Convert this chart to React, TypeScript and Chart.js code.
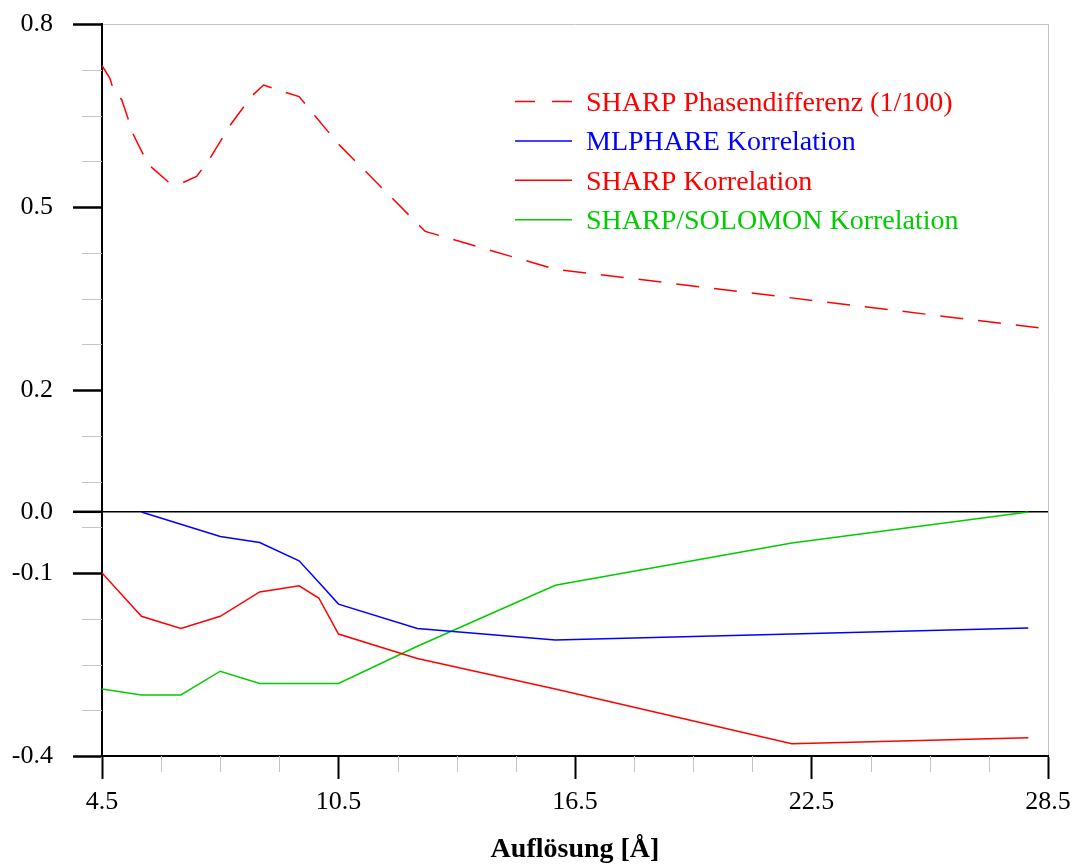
import React, { useEffect, useRef } from 'react';
import { Chart, registerables } from 'chart.js';

Chart.register(...registerables);

// ---- data ----
const RES_SHELLS = [4.5, 5.5, 6.5, 7.5, 8.5, 9.5, 10.0, 10.5, 12.5, 16.0, 22.0, 28.0];
const MLPHARE_KORR: (number | null)[] = [null, 0.0, -0.02, -0.04, -0.05, -0.08, -0.115, -0.151, -0.191, -0.21, -0.2, -0.19];
const SHARP_KORR = [-0.1, -0.171, -0.191, -0.171, -0.131, -0.121, -0.141, -0.2, -0.24, -0.29, -0.38, -0.37];
const SOLOMON_KORR = [-0.29, -0.3, -0.3, -0.261, -0.281, -0.281, -0.281, -0.281, -0.22, -0.12, -0.051, 0.0];

const PHASE_RES = [4.5, 4.7, 4.8, 5.0, 5.3, 5.67, 6.2, 6.55, 6.9, 7.25, 7.75, 8.3, 8.6, 9.15, 9.5, 10.5, 12.7, 16.0, 28.5];
const PHASE_DIFF = [0.732, 0.711, 0.69, 0.676, 0.618, 0.57, 0.54, 0.54, 0.55, 0.581, 0.634, 0.682, 0.7, 0.688, 0.681, 0.603, 0.46, 0.398, 0.3];

const X_MAJOR = [4.5, 10.5, 16.5, 22.5, 28.5];
const X_MINOR = [6, 7.5, 9, 12, 13.5, 15, 18, 19.5, 21, 24, 25.5, 27];
const Y_MAJOR = [-0.4, -0.1, 0.0, 0.2, 0.5, 0.8];
const Y_MINOR = [-0.325, -0.25, -0.175, -0.025, 0.05, 0.125, 0.275, 0.35, 0.425, 0.575, 0.65, 0.725];

const LABELS = [
  'SHARP Phasendifferenz (1/100)',
  'MLPHARE Korrelation',
  'SHARP Korrelation',
  'SHARP/SOLOMON Korrelation',
];
const COLORS = ['#ff0000', '#0000ff', '#ff0000', '#00cc00'];

const FAMILY = "'Liberation Serif', 'Times New Roman', serif";
const GRAY = '#c4c4c4';

const pts = (xs: number[], ys: (number | null)[]) =>
  xs.map((x, i) => ({ x, y: ys[i] })).filter((p) => p.y !== null);

const minorTicksPlugin = {
  id: 'minorTicks',
  afterDraw(chart: any) {
    const { ctx, chartArea, scales } = chart;
    ctx.save();
    ctx.strokeStyle = GRAY;
    ctx.lineWidth = 1;
    Y_MINOR.forEach((v) => {
      const y = Math.round(scales.y.getPixelForValue(v)) + 0.5;
      ctx.beginPath();
      ctx.moveTo(chartArea.left - 20, y);
      ctx.lineTo(chartArea.left, y);
      ctx.stroke();
    });
    X_MINOR.forEach((v) => {
      const x = Math.round(scales.x.getPixelForValue(v)) + 0.5;
      ctx.beginPath();
      ctx.moveTo(x, chartArea.bottom);
      ctx.lineTo(x, chartArea.bottom + 16);
      ctx.stroke();
    });
    ctx.restore();
  },
};

const legendPlugin = {
  id: 'lineLegend',
  afterDraw(chart: any) {
    const ctx = chart.ctx;
    ctx.save();
    chart.data.datasets.forEach((ds: any, i: number) => {
      const y = 101.5 + i * 39.4;
      ctx.beginPath();
      ctx.setLineDash(i === 0 ? [20, 17] : []);
      ctx.strokeStyle = ds.borderColor;
      ctx.lineWidth = 1.5;
      ctx.moveTo(515, y);
      ctx.lineTo(572, y);
      ctx.stroke();
      ctx.setLineDash([]);
      ctx.fillStyle = ds.borderColor;
      ctx.font = `28px ${FAMILY}`;
      ctx.textBaseline = 'middle';
      ctx.textAlign = 'left';
      ctx.fillText(ds.label, 586, y + 2);
    });
    ctx.restore();
  },
};

export default function App() {
  const ref = useRef<HTMLCanvasElement>(null);

  useEffect(() => {
    const datasets = [
      { label: LABELS[0], data: pts(PHASE_RES, PHASE_DIFF), borderDash: [23, 15] },
      { label: LABELS[1], data: pts(RES_SHELLS, MLPHARE_KORR) },
      { label: LABELS[2], data: pts(RES_SHELLS, SHARP_KORR) },
      { label: LABELS[3], data: pts(RES_SHELLS, SOLOMON_KORR) },
    ].map((d, i) => ({
      ...d,
      borderColor: COLORS[i],
      backgroundColor: COLORS[i],
      borderWidth: 1.5,
      pointRadius: 0,
      fill: false,
      tension: 0,
    }));

    const chart = new Chart(ref.current as HTMLCanvasElement, {
      type: 'line',
      data: { datasets },
      options: {
        responsive: false,
        animation: false,
        layout: { padding: { left: 0, top: 24, right: 28, bottom: 0 } },
        plugins: { legend: { display: false }, tooltip: { enabled: false } },
        scales: {
          x: {
            type: 'linear',
            min: 4.5,
            max: 28.5,
            afterBuildTicks: (s: any) => {
              s.ticks = X_MAJOR.map((v) => ({ value: v }));
            },
            afterFit: (s: any) => {
              s.height = 111;
              s.paddingLeft = 0;
              s.paddingRight = 0;
            },
            ticks: {
              autoSkip: false,
              maxRotation: 0,
              padding: 8,
              color: '#000',
              font: { family: FAMILY, size: 26 },
              callback: (v: any) => Number(v).toFixed(1),
            },
            grid: {
              display: true,
              drawOnChartArea: true,
              drawTicks: true,
              tickLength: 23,
              tickWidth: 2,
              tickColor: '#000',
              color: (c: any) => (c.tick && c.tick.value === 28.5 ? GRAY : 'rgba(0,0,0,0)'),
              lineWidth: 1,
            },
            border: { display: true, color: '#000', width: 2 },
            title: {
              display: true,
              text: 'Auflösung [Å]',
              color: '#000',
              font: { family: FAMILY, size: 28, weight: 'bold' },
              padding: 0,
            },
          },
          y: {
            type: 'linear',
            min: -0.4,
            max: 0.8,
            afterBuildTicks: (s: any) => {
              s.ticks = Y_MAJOR.map((v) => ({ value: v }));
            },
            afterFit: (s: any) => {
              s.width = 102;
              s.paddingTop = 0;
              s.paddingBottom = 0;
            },
            ticks: {
              autoSkip: false,
              padding: 20,
              color: '#000',
              font: { family: FAMILY, size: 26 },
              callback: (v: any) => Number(v).toFixed(1),
            },
            grid: {
              display: true,
              drawOnChartArea: true,
              drawTicks: true,
              tickLength: 29,
              tickWidth: 2.5,
              tickColor: '#000',
              color: (c: any) => {
                if (!c.tick) return 'rgba(0,0,0,0)';
                if (c.tick.value === 0) return '#000';
                if (c.tick.value === 0.8) return GRAY;
                return 'rgba(0,0,0,0)';
              },
              lineWidth: (c: any) => (c.tick && c.tick.value === 0 ? 1.6 : 1),
            },
            border: { display: true, color: '#000', width: 2 },
          },
        },
      } as any,
      plugins: [minorTicksPlugin, legendPlugin],
    });
    return () => chart.destroy();
  }, []);

  return (
    <div style={{ position: 'absolute', left: 0, top: 0, width: 1076, height: 867, background: '#fff' }}>
      <canvas ref={ref} width={1076} height={867} style={{ display: 'block' }} />
    </div>
  );
}
